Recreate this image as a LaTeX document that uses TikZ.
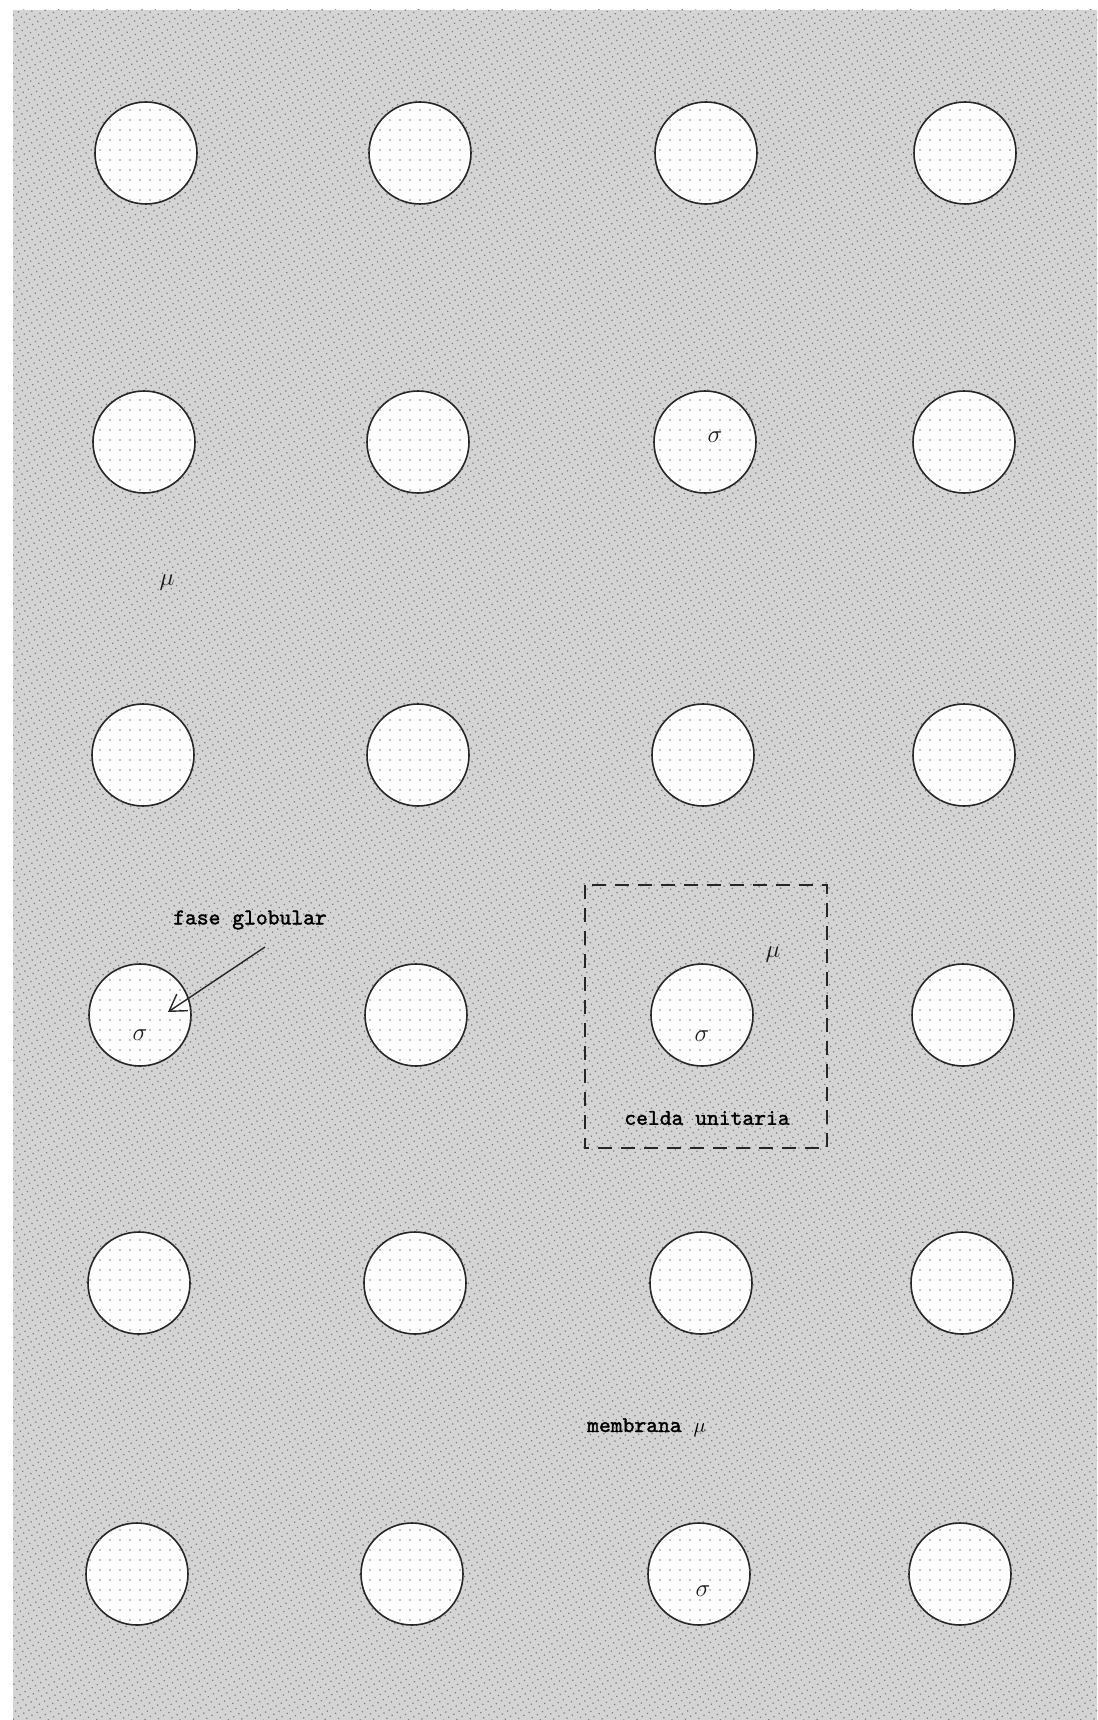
\documentclass[tikz,border=0pt]{standalone}
\usepackage{fontspec}
\newfontfamily\lblfont{lmmono10-regular.otf}[FakeBold=1.6]
\usetikzlibrary{patterns.meta,arrows.meta}
\begin{document}
\begin{tikzpicture}[x=1pt,y=-1pt,
  glob/.style={circle,minimum size=102pt,inner sep=0pt,draw=black!85,line width=1.6pt,
    fill=white,postaction={pattern={Dots[distance=10pt,radius=0.9pt]},pattern color=black!45}},
  lbl/.style={font=\fontsize{22.5}{26}\lblfont,text=black,inner sep=0pt},
  gr/.style={font=\fontsize{26}{30}\selectfont,text=black!90,inner sep=0pt}]
\useasboundingbox (0,0) rectangle (1097,1720);
\fill[white] (0,0) rectangle (1097,1720);
\fill[black!17] (13,10) rectangle (1097,1720);
\fill[pattern={Dots[distance=6pt,radius=0.9pt,angle=30]},pattern color=black!50] (13,10) rectangle (1097,1720);
% row 1
\node[glob] (c11) at (146,153) {};
\node[glob] (c12) at (420,153) {};
\node[glob] (c13) at (706,153) {};
\node[glob] (c14) at (965,153) {};
% row 2
\node[glob] (c21) at (144,442) {};
\node[glob] (c22) at (418,442) {};
\node[glob] (c23) at (705,442) {};
\node[glob] (c24) at (964,442) {};
% row 3
\node[glob] (c31) at (143,755) {};
\node[glob] (c32) at (418,755) {};
\node[glob] (c33) at (703,755) {};
\node[glob] (c34) at (964,755) {};
% row 4
\node[glob] (c41) at (140,1015) {};
\node[glob] (c42) at (416,1015) {};
\node[glob] (c43) at (702,1015) {};
\node[glob] (c44) at (963,1015) {};
% row 5
\node[glob] (c51) at (139,1283) {};
\node[glob] (c52) at (415,1283) {};
\node[glob] (c53) at (701,1283) {};
\node[glob] (c54) at (962,1283) {};
% row 6
\node[glob] (c61) at (137,1574) {};
\node[glob] (c62) at (412,1574) {};
\node[glob] (c63) at (699,1574) {};
\node[glob] (c64) at (960,1574) {};
% unit cell
\draw[black!85,line width=1.5pt,dash pattern=on 14pt off 9pt] (585,885) rectangle (827,1148);
% labels
\node[gr] (s23) at (715,437) {$\sigma$};
\node[gr] (m1) at (167,583) {$\mu$};
\node[gr] (s41) at (140,1035) {$\sigma$};
\node[gr] (m2) at (773,955) {$\mu$};
\node[gr] (s43) at (702,1036) {$\sigma$};
\node[gr] (s63) at (703,1591) {$\sigma$};
\node[lbl] (fg) at (250,920) {fase globular};
\node[lbl] (cu) at (707,1118) {celda unitaria};
\node[lbl,anchor=base west] (mb) at (587,1432) {membrana $\mu$};
\coordinate (as) at (265,947);
\coordinate (at) at (168,1012);
\draw[black!85,line width=1.4pt,-{Straight Barb[length=16pt,width=20pt]}] (as) -- (at);
\end{tikzpicture}
\end{document}
